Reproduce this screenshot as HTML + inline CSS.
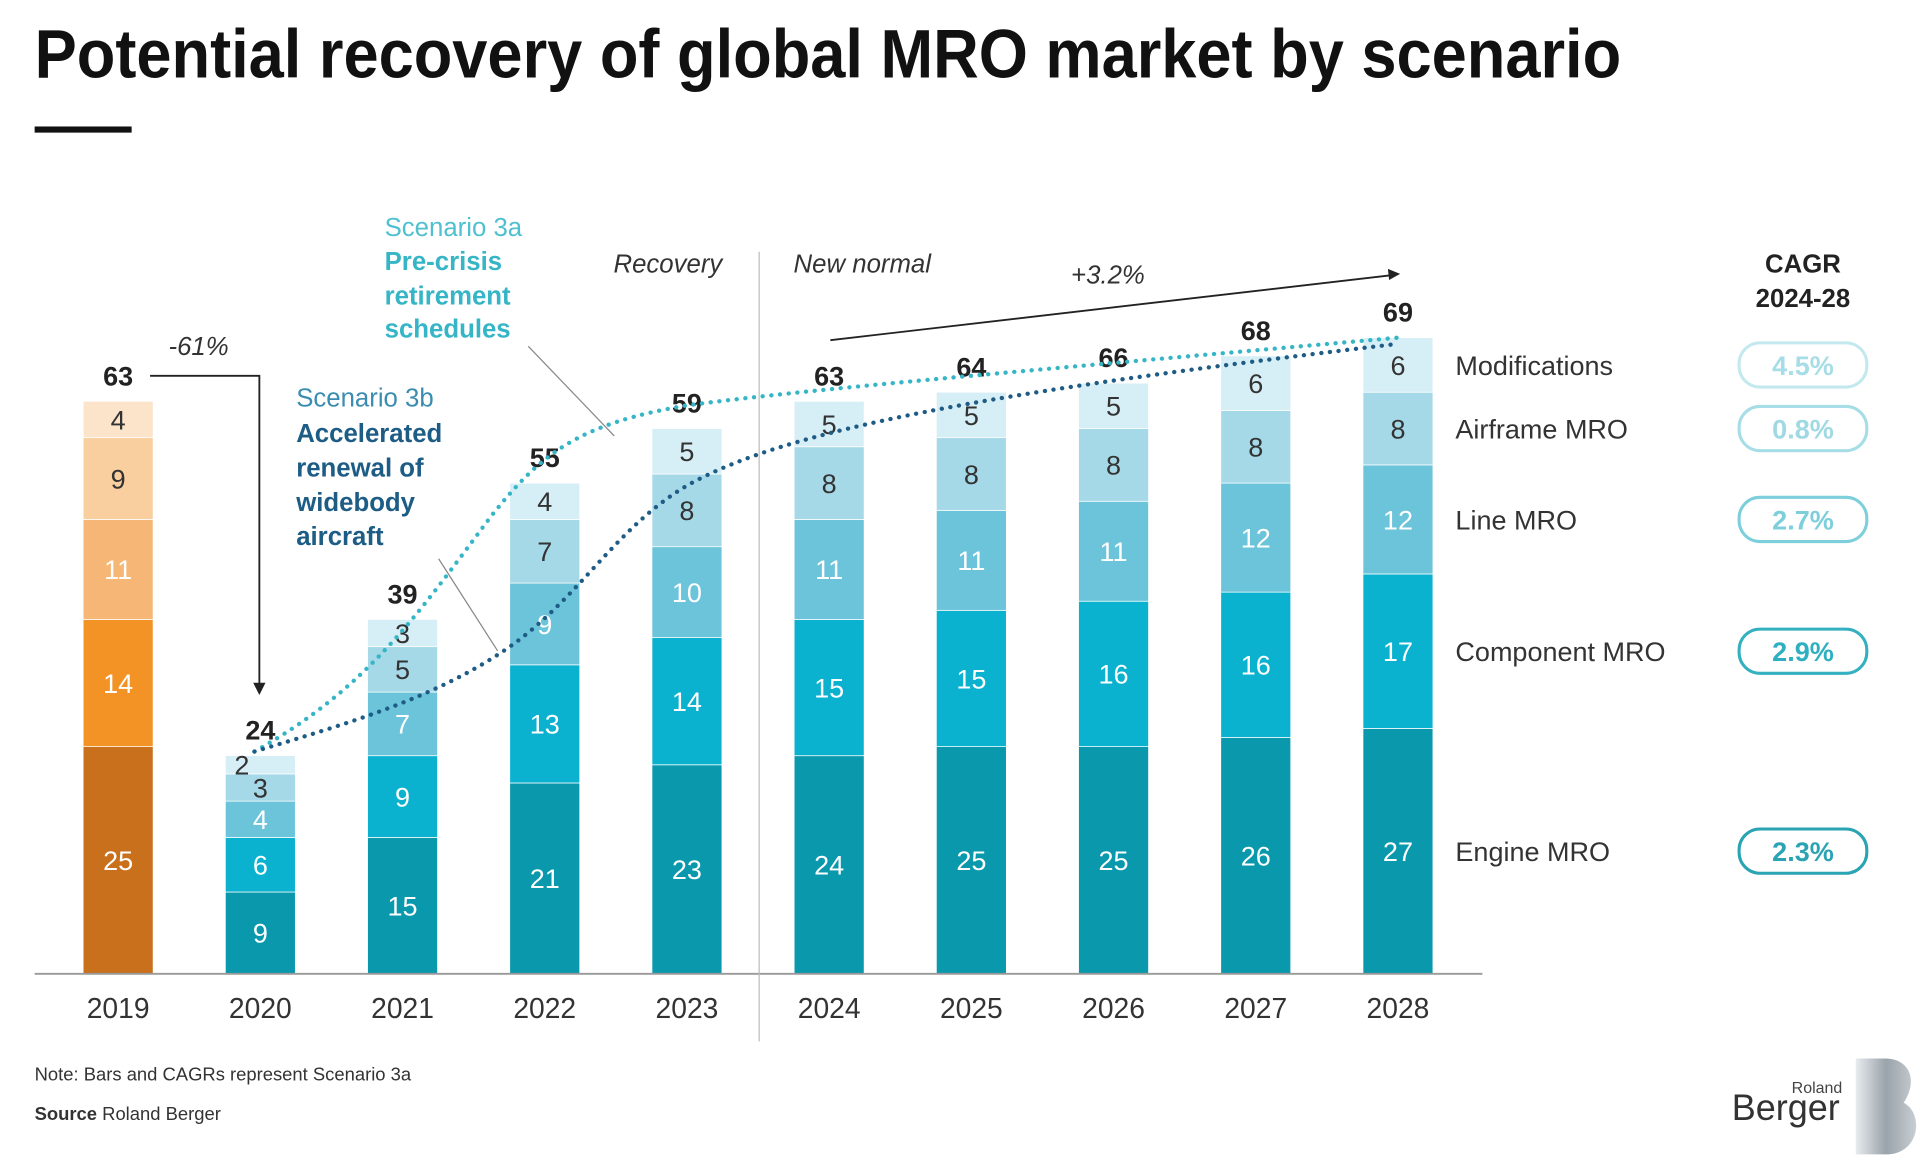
<!DOCTYPE html>
<html><head><meta charset="utf-8"><style>
html,body{margin:0;padding:0;background:#fff}
svg{display:block;font-family:"Liberation Sans",sans-serif}
</style></head><body>
<svg id="chart" width="1926" height="1158" viewBox="0 0 1568 943" xmlns="http://www.w3.org/2000/svg">
<text x="28" y="63" font-size="56" font-weight="bold" fill="#111" textLength="1292" lengthAdjust="spacingAndGlyphs">Potential recovery of global MRO market by scenario</text>
<rect x="28" y="103" width="79" height="5" fill="#111"/>
<g id="bars"></g>
<line x1="28" y1="793" x2="1207" y2="793" stroke="#999" stroke-width="1.5"/>
<line x1="618" y1="205" x2="618" y2="848" stroke="#bbb" stroke-width="1"/>
<text x="588" y="222" font-size="21" font-style="italic" fill="#333" text-anchor="end">Recovery</text>
<text x="646" y="222" font-size="21" font-style="italic" fill="#333">New normal</text>
<text x="872" y="231" font-size="21" font-style="italic" fill="#333">+3.2%</text>
<line x1="676" y1="277" x2="1134" y2="224" stroke="#222" stroke-width="1.5"/>
<path d="M1140,223 L1130,219 L1131,228 Z" fill="#222"/>
<text x="137" y="289" font-size="21" font-style="italic" fill="#333">-61%</text>
<path d="M122,306 H211 V560" fill="none" stroke="#222" stroke-width="1.5"/>
<path d="M211,566 L206,556 L216,556 Z" fill="#222"/>
<path d="M207,612 C300,560 340,500 400,420 C440,370 470,345 560,330 C650,318 800,305 1138,275" fill="none" stroke="#35b5c6" stroke-width="3.5" stroke-dasharray="0.1 7" stroke-linecap="round"/>
<path d="M207,612 C280,590 350,570 410,530 C470,490 500,430 560,395 C640,350 800,320 1138,280" fill="none" stroke="#1e5c85" stroke-width="3.5" stroke-dasharray="0.1 7" stroke-linecap="round"/>
<g font-size="21">
<text x="313" y="192" fill="#4fc0cf">Scenario 3a</text>
<text x="313" y="220" fill="#35b5c6" font-weight="bold">Pre-crisis</text>
<text x="313" y="248" fill="#35b5c6" font-weight="bold">retirement</text>
<text x="313" y="275" fill="#35b5c6" font-weight="bold">schedules</text>
</g>
<line x1="430" y1="282" x2="500" y2="355" stroke="#888" stroke-width="1"/>
<g font-size="21">
<text x="241" y="331" fill="#3a8db0">Scenario 3b</text>
<text x="241" y="360" fill="#1d5c85" font-weight="bold">Accelerated</text>
<text x="241" y="388" fill="#1d5c85" font-weight="bold">renewal of</text>
<text x="241" y="416" fill="#1d5c85" font-weight="bold">widebody</text>
<text x="241" y="444" fill="#1d5c85" font-weight="bold">aircraft</text>
</g>
<line x1="357" y1="455" x2="405" y2="530" stroke="#888" stroke-width="1"/>
<g font-size="22" fill="#333" id="legend"></g>
<text x="1468" y="222" font-size="21" font-weight="bold" fill="#222" text-anchor="middle">CAGR</text>
<text x="1468" y="250" font-size="21" font-weight="bold" fill="#222" text-anchor="middle">2024-28</text>
<text x="28" y="880" font-size="15" fill="#333">Note: Bars and CAGRs represent Scenario 3a</text>
<text x="28" y="912" font-size="15" fill="#333"><tspan font-weight="bold">Source</tspan> Roland Berger</text>
<g>
<defs><linearGradient id="lg" x1="0" x2="1"><stop offset="0" stop-color="#e8ecef"/><stop offset="0.5" stop-color="#9aa3aa"/><stop offset="1" stop-color="#c8ced3"/></linearGradient></defs>
<text x="1500" y="890" font-size="13" fill="#444" text-anchor="end">Roland</text>
<text x="1498" y="912" font-size="30" fill="#333" text-anchor="end" textLength="88" lengthAdjust="spacingAndGlyphs">Berger</text>
<path d="M1511,862 H1535 C1555,862 1562,880 1550,898 C1566,906 1564,938 1538,940 H1511 Z" fill="url(#lg)"/>
</g>
</svg>
<script>
const years=["2019","2020","2021","2022","2023","2024","2025","2026","2027","2028"];
const engine=[25,9,15,21,23,24,25,25,26,27];
const component=[14,6,9,13,14,15,15,16,16,17];
const line=[11,4,7,9,10,11,11,11,12,12];
const airframe=[9,3,5,7,8,8,8,8,8,8];
const mods=[4,2,3,4,5,5,5,5,6,6];
const totals=[63,24,39,55,59,63,64,66,68,69];
const segments=["Engine MRO","Component MRO","Line MRO","Airframe MRO","Modifications"];
const cagr=["2.3%","2.9%","2.7%","0.8%","4.5%"];
const NS="http://www.w3.org/2000/svg";
const x=i=>96+i*115.8;
const y=v=>793-v*7.4;
const BW=57;
const teal=["#0a98ad","#0ab2cf","#6cc4da","#a6d9e8","#d6eef5"];
const orange=["#c8701c","#f39326","#f6b776","#f9cf9f","#fbe4c9"];
const txtCol=["#fff","#fff","#fff","#333","#333"];
const series=[engine,component,line,airframe,mods];
const g=document.getElementById('bars');
function mk(tag,attrs,parent){const e=document.createElementNS(NS,tag);for(const k in attrs)e.setAttribute(k,attrs[k]);parent.appendChild(e);return e;}
years.forEach((yr,i)=>{
  let cum=0;
  series.forEach((s,k)=>{
    const v=s[i];
    const r=mk('rect',{x:x(i)-BW/2,y:y(cum+v),width:BW,height:y(cum)-y(cum+v),fill:(i===0?orange:teal)[k],stroke:'#fff','stroke-width':0.6},g);
    
    
    const small=(y(cum)-y(cum+v))<20;
    const t=mk('text',{x:x(i)-(small?15:0),y:(y(cum)+y(cum+v))/2+8,'font-size':22,'text-anchor':'middle',fill:txtCol[k]},g);
    
    
    t.textContent=v;
    cum+=v;
  });
  const tt=mk('text',{x:x(i),y:y(cum)-13,'font-size':22,'font-weight':'bold','text-anchor':'middle',fill:'#222'},g);
  
  
  tt.textContent=totals[i];
  const yl=mk('text',{x:x(i),y:829,'font-size':23,'text-anchor':'middle',fill:'#333'},g);
  
  
  yl.textContent=yr;
});
const lg=document.getElementById('legend');
const last=years.length-1;
const pillStroke=["#2aa3b3","#35b0c0","#7ccfdb","#a6dde6","#c3e9ee"];
const pillText=["#2aa3b3","#2fb0c0","#7ccfdb","#9fd9e3","#a6dde6"];
let cum=0;
series.forEach((s,k)=>{
  const v=s[last];
  const cy=(y(cum)+y(cum+v))/2;
  cum+=v;
  const t=mk('text',{x:1185,y:cy+8},lg);
  
  
  t.textContent=segments[k];
  const p=mk('rect',{x:1416,y:cy-18,width:104,height:36,rx:17,fill:'#fff',stroke:pillStroke[k],'stroke-width':2.5},lg);
  
  
  const pt=mk('text',{x:1468,y:cy+8,'text-anchor':'middle','font-weight':'bold','font-size':22,fill:pillText[k]},lg);
  
  
  pt.textContent=cagr[k];
});
</script>
</body></html>
